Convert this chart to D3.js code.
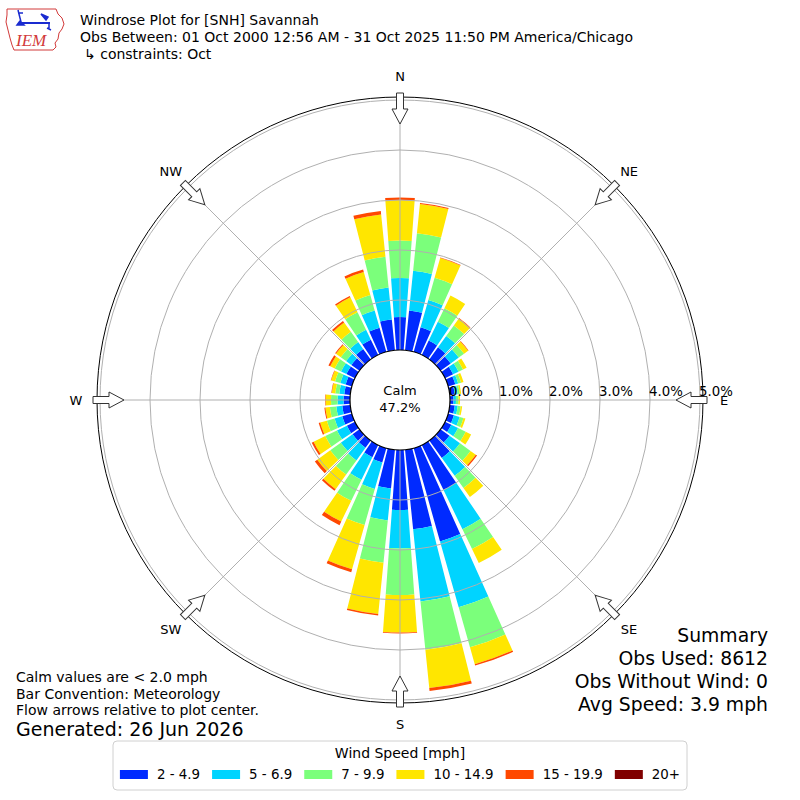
<!DOCTYPE html>
<html>
<head>
<meta charset="utf-8">
<script src="https://cdn.jsdelivr.net/npm/d3@7"></script>
<style>
  body { margin: 0; background: #fff; }
  svg text { font-family: "DejaVu Sans", sans-serif; fill: #000; }
</style>
</head>
<body>
<svg id="chart" width="800" height="800"></svg>
<script>
// direction bins (degrees, wind from), percent of all obs per speed bin
const directions = d3.range(0, 360, 10);
const speedBins = ["2 - 4.9", "5 - 6.9", "7 - 9.9", "10 - 14.9", "15 - 19.9", "20+"];

const speed2to5 = [0.66, 0.80, 0.51, 0.32, 0.30, 0.25, 0.18, 0.15, 0.10, 0.07, 0.10, 0.12,
                   0.14, 0.22, 0.43, 1.00, 1.94, 1.60, 1.20, 0.78, 0.30, 0.27, 0.18, 0.17,
                   0.18, 0.20, 0.16, 0.13, 0.12, 0.13, 0.19, 0.20, 0.26, 0.34, 0.50, 0.62];
const speed5to7 = [0.78, 0.80, 0.57, 0.42, 0.28, 0.20, 0.12, 0.06, 0.06, 0.05, 0.06, 0.12,
                   0.15, 0.26, 0.44, 0.87, 1.37, 1.45, 0.77, 0.64, 0.55, 0.50, 0.31, 0.29,
                   0.22, 0.16, 0.12, 0.12, 0.10, 0.11, 0.12, 0.13, 0.17, 0.22, 0.36, 0.64];
const speed7to10 = [0.75, 0.75, 0.46, 0.30, 0.26, 0.13, 0.10, 0.06, 0.04, 0.05, 0.06, 0.08,
                    0.17, 0.26, 0.30, 0.44, 0.83, 0.97, 0.93, 0.85, 0.75, 0.47, 0.35, 0.26,
                    0.26, 0.16, 0.13, 0.13, 0.08, 0.11, 0.14, 0.13, 0.25, 0.39, 0.32, 0.62];
const speed10to15 = [0.81, 0.59, 0.41, 0.28, 0.17, 0.10, 0.08, 0.05, 0.03, 0.03, 0.03, 0.04,
                     0.12, 0.13, 0.22, 0.31, 0.35, 0.77, 0.75, 1.03, 0.92, 0.46, 0.36, 0.32,
                     0.26, 0.14, 0.09, 0.11, 0.07, 0.08, 0.10, 0.12, 0.23, 0.33, 0.48, 0.85];
const speed15to20 = [0.05, 0.02, 0.01, 0.00, 0.01, 0.01, 0.00, 0.00, 0.00, 0.00, 0.00, 0.00,
                     0.00, 0.03, 0.00, 0.00, 0.03, 0.06, 0.02, 0.03, 0.06, 0.08, 0.04, 0.06,
                     0.04, 0.03, 0.02, 0.01, 0.01, 0.01, 0.04, 0.02, 0.04, 0.03, 0.05, 0.07];
const speed20plus = new Array(36).fill(0);

const ringTicks = [0, 1, 2, 3, 4, 5];
const compassLabels = ["N", "NE", "E", "SE", "S", "SW", "W", "NW"];
const calmPct = 47.2;

const titleLines = [
  "Windrose Plot for [SNH] Savannah",
  "Obs Between: 01 Oct 2000 12:56 AM - 31 Oct 2025 11:50 PM America/Chicago",
  "\u21b3 constraints: Oct"
];
const noteLines = ["Calm values are < 2.0 mph", "Bar Convention: Meteorology", "Flow arrows relative to plot center."];
const summaryLines = ["Summary", "Obs Used: 8612", "Obs Without Wind: 0", "Avg Speed: 3.9 mph"];

const binValues = [speed2to5, speed5to7, speed7to10, speed10to15, speed15to20, speed20plus];
const binColors = ["#002aff", "#00d4ff", "#7bff7b", "#ffe600", "#ff4800", "#800000"];

const svg = d3.select('#chart');
const cx = 400, cy = 400;
const outerR = 303;
const r = d3.scaleLinear().domain([0, 5]).range([50, 300]);
const rad = d => d * Math.PI / 180;
const color = d3.scaleOrdinal().domain(speedBins).range(binColors);

// stack bins per direction
const rows = directions.map((dir, i) => {
  const row = { dir: dir };
  speedBins.forEach((b, k) => row[b] = binValues[k][i]);
  return row;
});
const series = d3.stack().keys(speedBins)(rows);

const plot = svg.append('g').attr('transform', `translate(${cx},${cy})`);
const arc = d3.arc();
const halfWidth = rad(4.2);

plot.selectAll('g.bin')
  .data(series)
  .join('g')
  .attr('class', 'bin')
  .attr('fill', s => color(s.key))
  .selectAll('path')
  .data(s => s.filter(d => d[1] > d[0]))
  .join('path')
  .attr('d', d => arc({
    innerRadius: r(d[0]),
    outerRadius: r(d[1]),
    startAngle: rad(d.data.dir) - halfWidth,
    endAngle: rad(d.data.dir) + halfWidth
  }));

// grid on top of the bars
plot.selectAll('circle.ring')
  .data(ringTicks.slice(1))
  .join('circle')
  .attr('r', d => r(d))
  .attr('fill', 'none')
  .attr('stroke', '#b0b0b0')
  .attr('stroke-width', 1);

plot.selectAll('line.spoke')
  .data(d3.range(0, 360, 45))
  .join('line')
  .attr('x1', d => r(0) * Math.sin(rad(d)))
  .attr('y1', d => -r(0) * Math.cos(rad(d)))
  .attr('x2', d => outerR * Math.sin(rad(d)))
  .attr('y2', d => -outerR * Math.cos(rad(d)))
  .attr('stroke', '#b0b0b0')
  .attr('stroke-width', 1);

plot.append('circle')
  .attr('r', outerR)
  .attr('fill', 'none')
  .attr('stroke', '#000')
  .attr('stroke-width', 1);

// calm circle
plot.append('circle')
  .attr('r', r(0))
  .attr('fill', '#fff')
  .attr('stroke', '#000')
  .attr('stroke-width', 1.2);
plot.append('text').attr('x', 0).attr('y', -5).attr('text-anchor', 'middle')
  .style('font-size', '13px').text('Calm');
plot.append('text').attr('x', 0).attr('y', 12).attr('text-anchor', 'middle')
  .style('font-size', '13px').text(calmPct.toFixed(1) + '%');

// ring labels (the last one sits on the E arrow, as in the original)
plot.selectAll('text.rlabel')
  .data(ringTicks)
  .join('text')
  .attr('x', d => r(d) - 1)
  .attr('y', -4)
  .style('font-size', '13.3px')
  .text(d => d.toFixed(1) + '%');

// flow arrows
const arrowPath = "M-3.5,-307 L3.5,-307 L3.5,-291 L8,-291 L0,-276 L-8,-291 L-3.5,-291 Z";
plot.selectAll('path.arrow')
  .data(compassLabels)
  .join('path')
  .attr('d', arrowPath)
  .attr('transform', (d, i) => `rotate(${i * 45})`)
  .attr('fill', '#fff')
  .attr('stroke', '#333')
  .attr('stroke-width', 1);

plot.selectAll('text.compass')
  .data(compassLabels)
  .join('text')
  .attr('x', (d, i) => 324 * Math.sin(rad(i * 45)))
  .attr('y', (d, i) => -324 * Math.cos(rad(i * 45)))
  .attr('text-anchor', 'middle')
  .attr('dy', '0.36em')
  .style('font-size', '13px')
  .text(d => d);

// header
svg.selectAll('text.title')
  .data(titleLines)
  .join('text')
  .attr('x', (d, i) => i === 2 ? 84 : 80)
  .attr('y', (d, i) => 25 + i * 17)
  .style('font-size', '14px')
  .text(d => d);

// logo
const logo = svg.append('g');
logo.append('path')
  .attr('d', 'M7,9 L56,9 L58,14 L62,18 L64,24 L62,29 L59,33 L58,39 L55,43 L56,47 L53,50 L14,50 L12,45 L10,38 L8,30 L6,22 L7,15 Z')
  .attr('fill', 'none').attr('stroke', '#d23a3a').attr('stroke-width', 1);
logo.append('line').attr('x1', 21).attr('y1', 23).attr('x2', 50).attr('y2', 23)
  .attr('stroke', '#1a2bd0').attr('stroke-width', 2);
logo.append('path').attr('d', 'M18,10 L21,22 M18,13 L23,13 M41,14 L48,17 L46,20 Z M20,21 L24,25 L17,25 Z M49,23 L49,29 M47,28 L51,30')
  .attr('fill', '#1a2bd0').attr('stroke', '#1a2bd0').attr('stroke-width', 1.5);
logo.append('text').attr('x', 16).attr('y', 46)
  .style('font-family', '"Liberation Serif", serif').style('font-style', 'italic')
  .style('font-size', '17px').style('fill', '#d23a3a').text('IEM');

// notes bottom left
svg.selectAll('text.note')
  .data(noteLines)
  .join('text')
  .attr('x', 16)
  .attr('y', (d, i) => 682 + i * 16.5)
  .style('font-size', '14px')
  .text(d => d);
svg.append('text').attr('x', 16).attr('y', 736)
  .style('font-size', '19px').text('Generated: 26 Jun 2026');

// summary bottom right
svg.selectAll('text.summary')
  .data(summaryLines)
  .join('text')
  .attr('x', 768)
  .attr('y', (d, i) => 642 + i * 23)
  .attr('text-anchor', 'end')
  .style('font-size', '18.8px')
  .text(d => d);

// legend
const legend = svg.append('g');
legend.append('rect')
  .attr('x', 113).attr('y', 741).attr('width', 574).attr('height', 49).attr('rx', 4)
  .attr('fill', '#fff').attr('stroke', '#d0d0d0');
legend.append('text').attr('x', 400).attr('y', 758).attr('text-anchor', 'middle')
  .style('font-size', '14px').text('Wind Speed [mph]');

const items = legend.selectAll('g.item')
  .data(speedBins)
  .join('g');
items.append('rect')
  .attr('width', 28).attr('height', 9).attr('y', 770)
  .attr('fill', d => color(d));
items.append('text')
  .attr('y', 779)
  .style('font-size', '13.4px')
  .text(d => d);

const widths = [];
items.select('text').each(function() { widths.push(this.getComputedTextLength()); });
const itemW = widths.map(w => 28 + 9 + w);
const total = d3.sum(itemW) + 12 * (itemW.length - 1);
let xpos = 400 - total / 2;
items.each(function(d, i) {
  const g = d3.select(this);
  g.select('rect').attr('x', xpos);
  g.select('text').attr('x', xpos + 37);
  xpos += itemW[i] + 12;
});
</script>
</body>
</html>
